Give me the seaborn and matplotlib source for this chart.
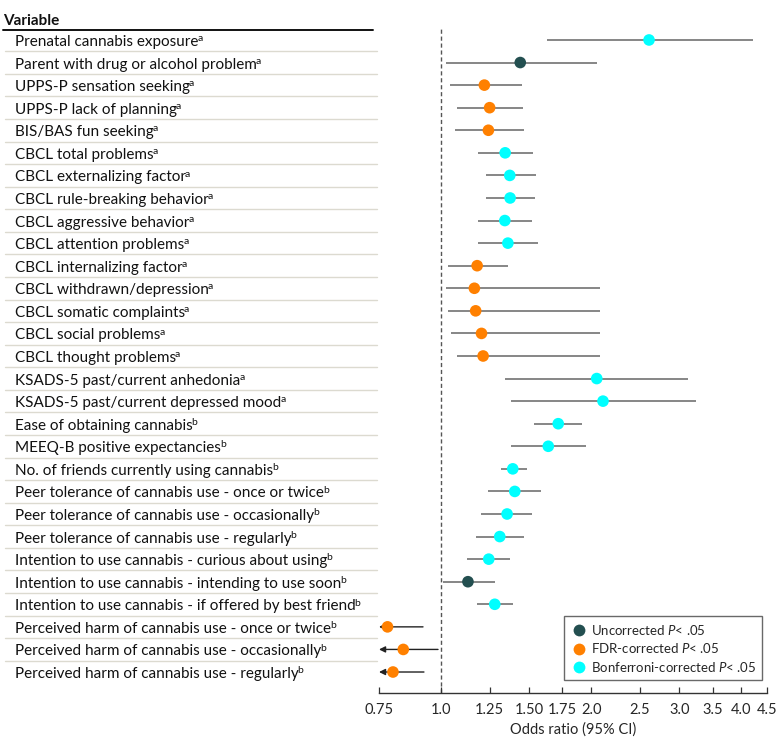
import matplotlib
matplotlib.use("Agg")
import matplotlib.pyplot as plt
import matplotlib.transforms as mtransforms
from matplotlib.lines import Line2D
import numpy as np
import pandas as pd
import seaborn as sns

# ---------------- data ----------------
variables = [
    "Prenatal cannabis exposure", "Parent with drug or alcohol problem",
    "UPPS-P sensation seeking", "UPPS-P lack of planning", "BIS/BAS fun seeking",
    "CBCL total problems", "CBCL externalizing factor", "CBCL rule-breaking behavior",
    "CBCL aggressive behavior", "CBCL attention problems", "CBCL internalizing factor",
    "CBCL withdrawn/depression", "CBCL somatic complaints", "CBCL social problems",
    "CBCL thought problems", "KSADS-5 past/current anhedonia",
    "KSADS-5 past/current depressed mood", "Ease of obtaining cannabis",
    "MEEQ-B positive expectancies", "No. of friends currently using cannabis",
    "Peer tolerance of cannabis use - once or twice",
    "Peer tolerance of cannabis use - occasionally",
    "Peer tolerance of cannabis use - regularly",
    "Intention to use cannabis - curious about using",
    "Intention to use cannabis - intending to use soon",
    "Intention to use cannabis - if offered by best friend",
    "Perceived harm of cannabis use - once or twice",
    "Perceived harm of cannabis use - occasionally",
    "Perceived harm of cannabis use - regularly",
]
footnotes = ["a"] * 17 + ["b"] * 12
odds_ratio = [2.61, 1.44, 1.22, 1.25, 1.243, 1.343, 1.372, 1.374, 1.341, 1.36,
              1.18, 1.165, 1.172, 1.204, 1.213, 2.05, 2.11, 1.716, 1.639,
              1.391, 1.404, 1.355, 1.31, 1.245, 1.131, 1.28, 0.78, 0.839, 0.80]
ci_lower = [1.63, 1.02, 1.039, 1.077, 1.064, 1.183, 1.23, 1.23, 1.187, 1.187,
            1.033, 1.02, 1.033, 1.047, 1.073, 1.343, 1.378, 1.536, 1.378,
            1.316, 1.241, 1.204, 1.172, 1.128, 1.009, 1.178, 0.70, 0.70, 0.70]
ci_upper = [4.21, 2.05, 1.45, 1.46, 1.467, 1.53, 1.55, 1.54, 1.52, 1.56,
            1.36, 2.08, 2.08, 2.08, 2.08, 3.13, 3.24, 1.915, 1.948,
            1.487, 1.586, 1.517, 1.466, 1.372, 1.282, 1.393, 0.919, 0.985, 0.923]
significance = ["Bonferroni-corrected", "Uncorrected"] + ["FDR-corrected"] * 3 + \
    ["Bonferroni-corrected"] * 5 + ["FDR-corrected"] * 5 + ["Bonferroni-corrected"] * 9 + \
    ["Uncorrected", "Bonferroni-corrected"] + ["FDR-corrected"] * 3
sig_levels = ["Uncorrected", "FDR-corrected", "Bonferroni-corrected"]
sig_colors = ["#234f50", "#ff8000", "#00ffff"]
x_ticks = [0.75, 1.0, 1.25, 1.5, 1.75, 2.0, 2.5, 3.0, 3.5, 4.0, 4.5]
x_ticklabels = ["0.75", "1.0", "1.25", "1.50", "1.75", "2.0", "2.5", "3.0", "3.5", "4.0", "4.5"]

df = pd.DataFrame({
    "variable": variables, "or": odds_ratio, "lo": ci_lower, "hi": ci_upper,
    "sig": significance,
})
df["row"] = np.arange(len(df))

# ---------------- style ----------------
sns.set_theme(style="white")
plt.rcParams["font.family"] = ["Lato", "DejaVu Sans"]
plt.rcParams["mathtext.fontset"] = "custom"
plt.rcParams["mathtext.rm"] = "Lato"
plt.rcParams["mathtext.it"] = "Lato:italic"

W, H = 780, 745
fig = plt.figure(figsize=(W / 100, H / 100), dpi=100)
ax = fig.add_axes([379 / W, 1 - 693 / H, 388 / W, 665 / H])

XMIN, XMAX = 0.75, 4.5
ax.set_xscale("log")
ax.set_xlim(XMIN, XMAX)
ax.set_ylim(len(df) - 1 + 0.93, -0.53)
ROW_PX = 665 / (len(df) - 1 + 0.93 + 0.53)

# CI lines
line_col = "#666666"
for _, r in df.iterrows():
    if r["lo"] < XMIN:
        ax.annotate("", xy=(XMIN, r["row"]), xytext=(r["hi"], r["row"]),
                    arrowprops=dict(arrowstyle="-|>", color="#222222", lw=1.0,
                                    mutation_scale=9, shrinkA=0, shrinkB=0),
                    annotation_clip=False)
    else:
        ax.hlines(r["row"], r["lo"], r["hi"], color=line_col, lw=1.1, zorder=1)

ax.axvline(1.0, color="#555555", lw=1.0, ls=(0, (3, 2)), zorder=0)

sns.scatterplot(data=df, x="or", y="row", hue="sig", hue_order=sig_levels,
                palette=sig_colors, s=70, linewidth=0, ax=ax, zorder=3,
                legend=False, clip_on=False)

# axes styling
for side in ["top", "right", "left"]:
    ax.spines[side].set_visible(False)
ax.spines["bottom"].set_color("#333333")
ax.spines["bottom"].set_linewidth(1.0)
ax.set_yticks([])
ax.set_xticks(x_ticks)
ax.set_xticklabels(x_ticklabels)
ax.xaxis.set_minor_locator(matplotlib.ticker.NullLocator())
ax.tick_params(axis="x", direction="in", length=4, width=0.9, color="#333333",
               labelsize=10.5, pad=7, bottom=True)
ax.set_xlabel("Odds ratio (95% CI)", fontsize=10.5, labelpad=4)
ax.set_ylabel("")

# left-hand labels and separators
trans = mtransforms.blended_transform_factory(fig.transFigure, ax.transData)
base_off = 6.0 / ROW_PX
for i, (name, fn) in enumerate(zip(variables, footnotes)):
    t = ax.text(15 / W, i + base_off, name, transform=trans,
                ha="left", va="baseline", fontsize=11, color="#111111", clip_on=False)
    ax.annotate(fn, xy=(1.0, 0.0), xycoords=t, xytext=(-0.8, 5.6),
                textcoords="offset points", ha="left", va="baseline",
                fontsize=7.5, color="#111111", annotation_clip=False)
for i in range(len(variables) - 1):
    fig.add_artist(Line2D([5 / W, 377 / W], [i + 0.5, i + 0.5], transform=trans,
                          color="#dcdad0", lw=1.0))
ax.text(3 / W, -0.53 - 3.0 / ROW_PX, "Variable", transform=trans, ha="left",
        va="baseline", fontsize=11, fontweight="bold", color="#111111", clip_on=False)
fig.add_artist(Line2D([3 / W, 373 / W], [-0.45, -0.45], transform=trans,
                      color="#111111", lw=1.4))

# legend
handles = [Line2D([], [], marker="o", ls="", markersize=8.5, markerfacecolor=c,
                  markeredgewidth=0) for c in sig_colors]
labels = ["Uncorrected $P$< .05", "FDR-corrected $P$< .05",
          "Bonferroni-corrected $P$< .05"]
leg = ax.legend(handles, labels, loc="lower right", bbox_to_anchor=(0.995, 0.015),
                frameon=True, fancybox=False, fontsize=9.5, handletextpad=0.2,
                labelspacing=0.35, borderpad=0.5, handlelength=1.3,
                borderaxespad=0.2)
leg.get_frame().set_edgecolor("#444444")
leg.get_frame().set_linewidth(1.0)

fig.savefig("out.png", dpi=100)
